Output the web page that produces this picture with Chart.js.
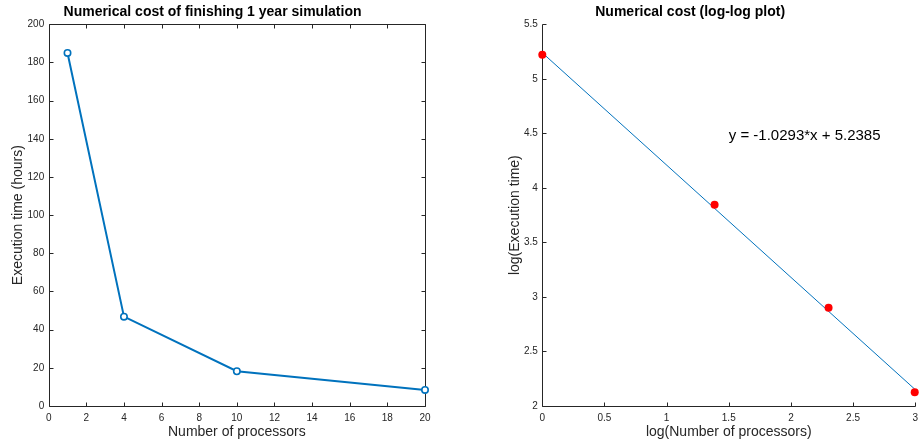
<!DOCTYPE html>
<html><head><meta charset="utf-8">
<script src="https://cdn.jsdelivr.net/npm/chart.js@4.4.0/dist/chart.umd.min.js"></script>
<style>
html,body{margin:0;padding:0;background:#fff;}
#wrap{position:relative;width:924px;height:445px;overflow:hidden;}
canvas{position:absolute;top:0;}
#c1{left:0;} #c2{left:462px;}
</style></head><body>
<div id="wrap"><canvas id="c1" width="462" height="445"></canvas><canvas id="c2" width="462" height="445"></canvas></div>
<script>
// ---- data ----
const processors = [1, 4, 10, 20];
const hours = [185.0, 46.8, 18.2, 8.4];
const logProcessors = [0, 1.386, 2.303, 2.996];
const logHours = [5.221, 3.846, 2.901, 2.126];
const fitX = [0, 2.996];
const fitY = [5.2385, 2.1547];
const fitText = 'y = -1.0293*x + 5.2385';

const leftXTicks = [0, 2, 4, 6, 8, 10, 12, 14, 16, 18, 20];
const leftXLabels = ['0','2','4','6','8','10','12','14','16','18','20'];
const leftYTicks = [0, 20, 40, 60, 80, 100, 120, 140, 160, 180, 200];
const leftYLabels = ['0','20','40','60','80','100','120','140','160','180','200'];
const rightXTicks = [0, 0.5, 1, 1.5, 2, 2.5, 3];
const rightXLabels = ['0','0.5','1','1.5','2','2.5','3'];
const rightYTicks = [2, 2.5, 3, 3.5, 4, 4.5, 5, 5.5];
const rightYLabels = ['2','2.5','3','3.5','4','4.5','5','5.5'];

const titles = ['Numerical cost of finishing 1 year simulation', 'Numerical cost (log-log plot)'];
const xTitles = ['Number of processors', 'log(Number of processors)'];
const yTitles = ['Execution time (hours)', 'log(Execution time)'];

// ---- styling ----
const FONT = '"Liberation Sans", Arial, Helvetica, sans-serif';
const AX = '#262626';
const BLUE = '#0072BD';
const TL = 4;

function framePlugin(box) {
  return {
    id: 'frame',
    beforeDatasetsDraw(chart) {
      const {ctx, chartArea: a, scales: {x, y}} = chart;
      ctx.save();
      ctx.strokeStyle = AX; ctx.lineWidth = 1;
      const L = Math.round(a.left) + 0.5, R = Math.round(a.right) + 0.5;
      const T = Math.round(a.top) + 0.5, B = Math.round(a.bottom) + 0.5;
      ctx.beginPath();
      ctx.moveTo(L, T); ctx.lineTo(L, B); ctx.lineTo(R, B);
      if (box) { ctx.lineTo(R, T); ctx.lineTo(L, T); }
      x.ticks.forEach(t => {
        const p = Math.round(x.getPixelForValue(t.value)) + 0.5;
        ctx.moveTo(p, B); ctx.lineTo(p, B - TL);
        if (box) { ctx.moveTo(p, T); ctx.lineTo(p, T + TL); }
      });
      y.ticks.forEach(t => {
        const p = Math.round(y.getPixelForValue(t.value)) + 0.5;
        ctx.moveTo(L, p); ctx.lineTo(L + TL, p);
        if (box) { ctx.moveTo(R, p); ctx.lineTo(R - TL, p); }
      });
      ctx.stroke();
      ctx.restore();
    }
  };
}

function axis(ticks, labels, min, max, title, size, horiz, titlePad) {
  return {
    type: 'linear', min: min, max: max,
    grid: {display: false, drawTicks: false},
    border: {display: false},
    afterBuildTicks(s) { s.ticks = ticks.map(v => ({value: v})); },
    afterFit(s) { if (horiz) s.height = size; else s.width = size; },
    ticks: {
      autoSkip: false, maxRotation: 0, padding: horiz ? 6 : 4.5,
      color: AX, font: {family: FONT, size: 10},
      callback: (v, i) => labels[i]
    },
    title: {
      display: true, text: title, color: AX,
      font: {family: FONT, size: 14, lineHeight: 1.2},
      padding: horiz ? {top: 0, bottom: titlePad} : {top: titlePad, bottom: 0}
    }
  };
}

function titleOpts(text) {
  return {
    display: true, text: text, color: '#000',
    font: {family: FONT, size: 14, weight: 'bold', lineHeight: 1.2},
    padding: {top: 3.9, bottom: 3.6}
  };
}

Chart.defaults.font.family = FONT;

new Chart(document.getElementById('c1'), {
  type: 'line',
  data: {
    datasets: [{
      data: processors.map((p, i) => ({x: p, y: hours[i]})),
      borderColor: BLUE, borderWidth: 2, tension: 0,
      pointStyle: 'circle', pointRadius: 3.2, pointBorderWidth: 1.6,
      pointBorderColor: BLUE, pointBackgroundColor: '#fff',
      fill: false, clip: false
    }]
  },
  options: {
    responsive: false, animation: false, devicePixelRatio: 1,
    layout: {padding: {left: 0, right: 37, top: 0, bottom: 0}},
    plugins: {legend: {display: false}, tooltip: {enabled: false}, title: titleOpts(titles[0])},
    scales: {
      x: axis(leftXTicks, leftXLabels, 0, 20, xTitles[0], 39, true, 4.6),
      y: axis(leftYTicks, leftYLabels, 0, 200, yTitles[0], 48.7, false, 9.6)
    }
  },
  plugins: [framePlugin(true)]
});

const annotation = {
  id: 'fitLabel',
  afterDatasetsDraw(chart) {
    const {ctx, scales: {x, y}} = chart;
    ctx.save();
    ctx.font = '15px ' + FONT;
    ctx.fillStyle = '#000';
    ctx.textAlign = 'left'; ctx.textBaseline = 'middle';
    ctx.fillText(fitText, x.getPixelForValue(1.5), y.getPixelForValue(4.48));
    ctx.restore();
  }
};

new Chart(document.getElementById('c2'), {
  type: 'scatter',
  data: {
    datasets: [{
      data: logProcessors.map((p, i) => ({x: p, y: logHours[i]})),
      showLine: false, pointStyle: 'circle', pointRadius: 4,
      pointBackgroundColor: '#FF0000', pointBorderColor: '#FF0000', pointBorderWidth: 0,
      clip: false, order: 1
    }, {
      data: fitX.map((p, i) => ({x: p, y: fitY[i]})),
      showLine: true, borderColor: BLUE, borderWidth: 1, pointRadius: 0,
      fill: false, clip: false, order: 2
    }]
  },
  options: {
    responsive: false, animation: false, devicePixelRatio: 1,
    layout: {padding: {left: 0, right: 5.7, top: 0, bottom: 0}},
    plugins: {legend: {display: false}, tooltip: {enabled: false}, title: titleOpts(titles[1])},
    scales: {
      x: axis(rightXTicks, rightXLabels, 0, 3, xTitles[1], 39, true, 4.6),
      y: axis(rightYTicks, rightYLabels, 2, 5.5, yTitles[1], 80.3, false, 44.6)
    }
  },
  plugins: [framePlugin(false), annotation]
});
</script>
</body></html>
